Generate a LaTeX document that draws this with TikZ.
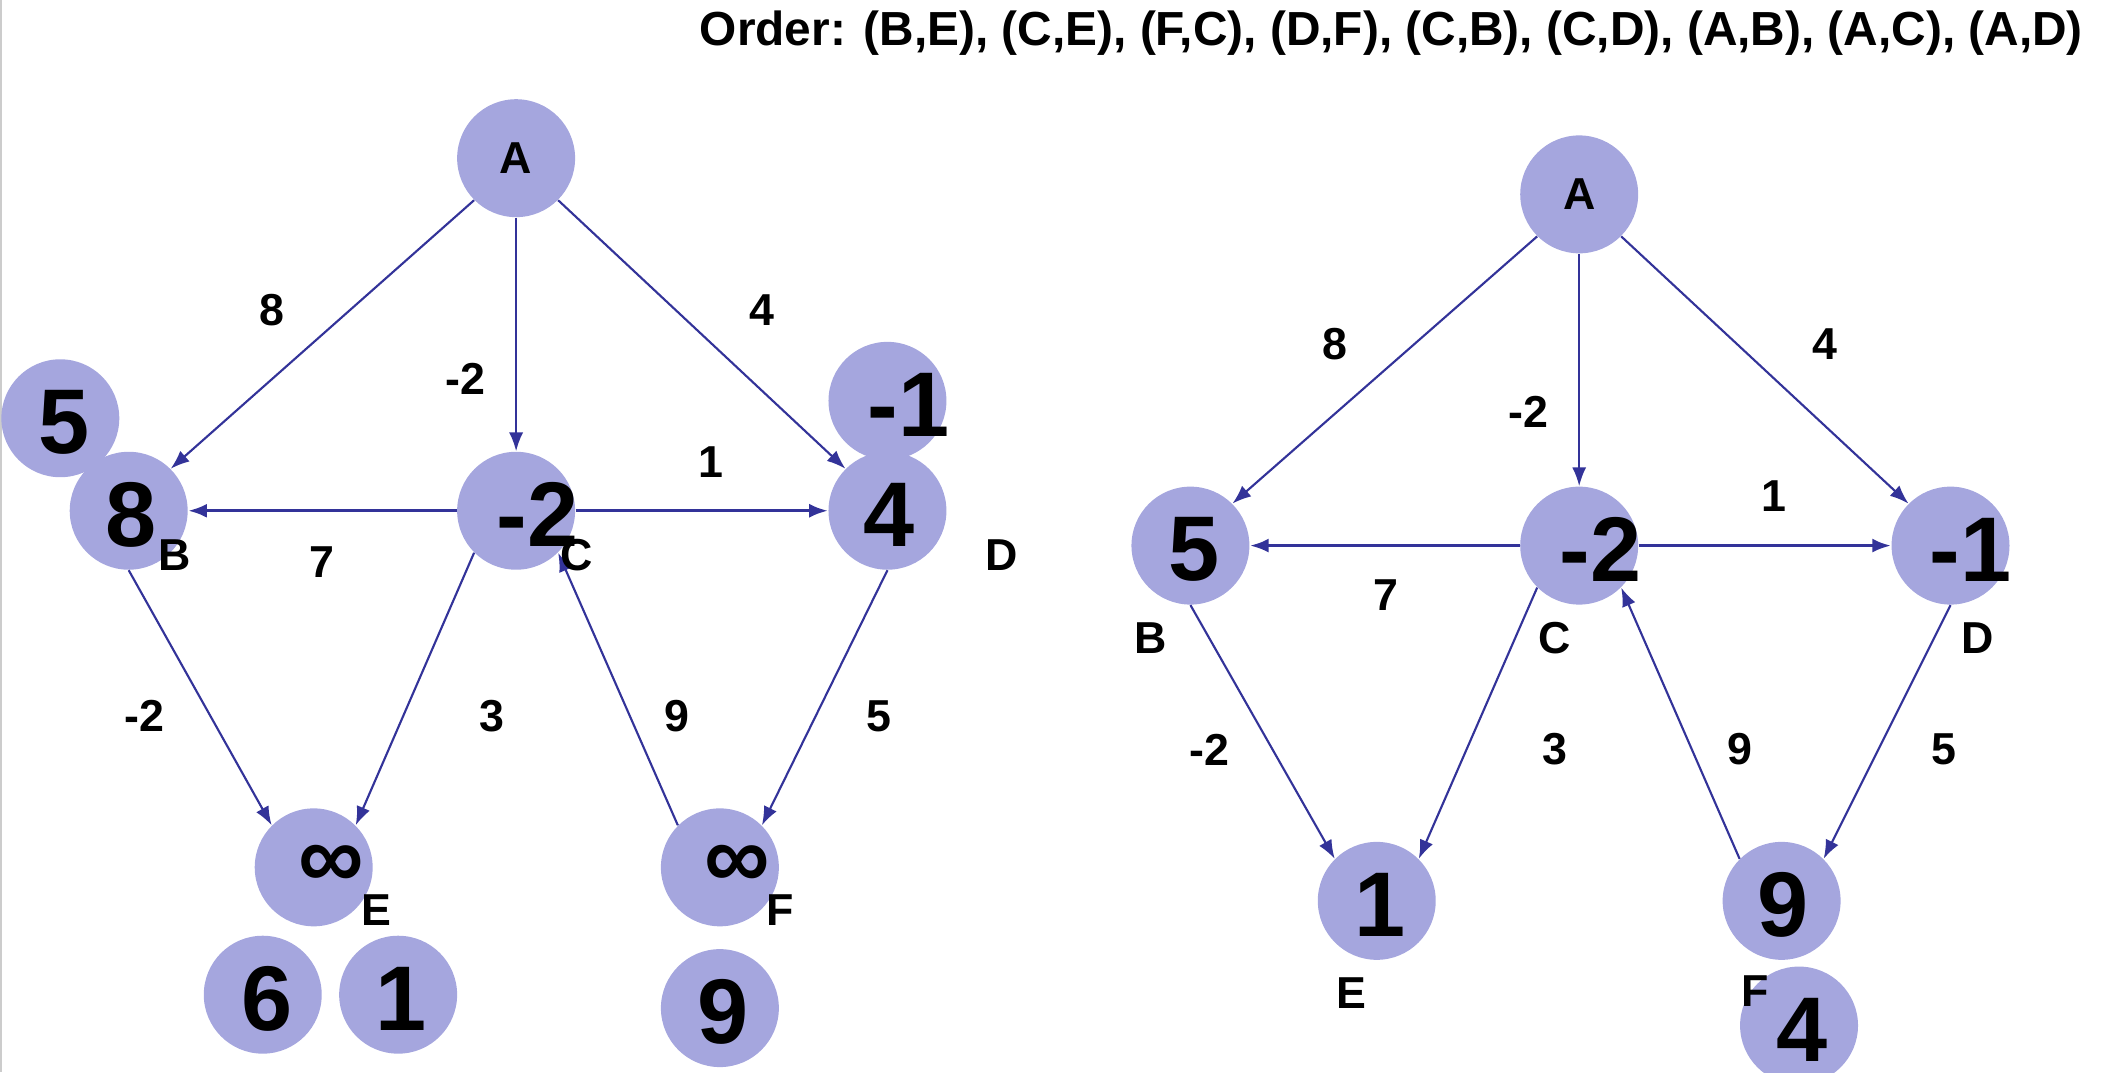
\documentclass[tikz,border=0pt]{standalone}
\usepackage{fontspec}
\setmainfont{Liberation Sans}
\usetikzlibrary{arrows.meta,calc}

\definecolor{vtxfill}{RGB}{165,166,222}
\definecolor{linkblue}{RGB}{51,51,153}

\tikzstyle{vtx}=[circle,fill=vtxfill,minimum size=1.76cm,inner sep=0pt]
\tikzstyle{val}=[anchor=west,inner sep=0pt,font=\fontsize{39}{42}\selectfont\bfseries]
\tikzstyle{lbl}=[inner sep=0pt,font=\fontsize{19}{21}\selectfont\bfseries]
\tikzstyle{link}=[draw=linkblue,line width=0.9pt,-{Latex[length=8pt,width=6pt]}]
\tikzstyle{hlink}=[link,line width=1.4pt]

\begin{document}
\begin{tikzpicture}[x=0.02cm,y=-0.02cm]
\useasboundingbox (0,0) rectangle (1568,800);
\clip (0,0) rectangle (1568,800);
\draw[gray!40,line width=1pt] (0.5,0) -- (0.5,800);

\node[anchor=base east,inner sep=0pt,font=\fontsize{20.3}{22}\selectfont\bfseries] (order) at (1554,34)
  {Order: (B,E), (C,E), (F,C), (D,F), (C,B), (C,D), (A,B), (A,C), (A,D)};

% left graph
\node[vtx,lbl] (lA) at (385,118) {A};
\node[vtx] (lB5) at (45,312) {};
\node[vtx] (lB) at (96,381) {};
\node[vtx] (lC) at (385,381) {};
\node[vtx] (lD1) at (662,299) {};
\node[vtx] (lD) at (662,381) {};
\node[vtx] (lE) at (234,647) {};
\node[vtx] (lF) at (537,647) {};
\node[vtx] (lE6) at (196,742) {};
\node[vtx] (lE1) at (297,742) {};
\node[vtx] (lF9) at (537,752) {};

\node[val] (lB5v) at ($(lB5)+(-17,3)$) {5};
\node[val] (lBv) at ($(lB)+(-18,3)$) {8};
\node[val] (lCv) at ($(lC)+(-15,3)$) {-2};
\node[val] (lD1v) at ($(lD1)+(-15,3)$) {-1};
\node[val] (lDv) at ($(lD)+(-18,3)$) {4};
\node[val] (lEv) at ($(lE)+(-12,0)$) {∞};
\node[val] (lFv) at ($(lF)+(-12,0)$) {∞};
\node[val] (lE6v) at ($(lE6)+(-16,3)$) {6};
\node[val] (lE1v) at ($(lE1)+(-17,3)$) {1};
\node[val] (lF9v) at ($(lF9)+(-17,3)$) {9};

\draw[link] (lA.225) -- (lB.45);
\draw[link] (lA.270) -- (lC.90);
\draw[link] (lA.315) -- (lD.135);
\draw[hlink] (lC.180) -- (lB.0);
\draw[hlink] (lC.0) -- (lD.180);
\draw[link] (lB.270) -- (lE.135);
\draw[link] (lC.225) -- (lE.45);
\draw[link] (lF.135) -- (lC.315);
\draw[link] (lD.270) -- (lF.45);

\node[lbl] (lw8) at (203,231) {8};
\node[lbl] (lw-2a) at (347,283) {-2};
\node[lbl] (lw4) at (568,231) {4};
\node[lbl] (lw1) at (530,345) {1};
\node[lbl] (lw7) at (240,419) {7};
\node[lbl] (lw-2b) at (108,534) {-2};
\node[lbl] (lw3) at (367,534) {3};
\node[lbl] (lw9) at (505,534) {9};
\node[lbl] (lw5) at (656,534) {5};

\node[lbl] (lBn) at (130,414) {B};
\node[lbl] (lCn) at (430,414) {C};
\node[lbl] (lDn) at (747,414) {D};
\node[lbl] (lEn) at (281,679) {E};
\node[lbl] (lFn) at (582,679) {F};

% right graph
\node[vtx,lbl] (rA) at (1178,145) {A};
\node[vtx] (rB) at (888,407) {};
\node[vtx] (rC) at (1178,407) {};
\node[vtx] (rD) at (1455,407) {};
\node[vtx] (rE) at (1027,672) {};
\node[vtx] (rF) at (1329,672) {};
\node[vtx] (rF4) at (1342,765) {};

\node[val] (rBv) at ($(rB)+(-17,3)$) {5};
\node[val] (rCv) at ($(rC)+(-15,3)$) {-2};
\node[val] (rDv) at ($(rD)+(-16,3)$) {-1};
\node[val] (rEv) at ($(rE)+(-17,3)$) {1};
\node[val] (rFv) at ($(rF)+(-18,3)$) {9};
\node[val] (rF4v) at ($(rF4)+(-17,3)$) {4};

\draw[link] (rA.225) -- (rB.45);
\draw[link] (rA.270) -- (rC.90);
\draw[link] (rA.315) -- (rD.135);
\draw[hlink] (rC.180) -- (rB.0);
\draw[hlink] (rC.0) -- (rD.180);
\draw[link] (rB.270) -- (rE.135);
\draw[link] (rC.225) -- (rE.45);
\draw[link] (rF.135) -- (rC.315);
\draw[link] (rD.270) -- (rF.45);

\node[lbl] (rw8) at (996,257) {8};
\node[lbl] (rw-2a) at (1140,307) {-2};
\node[lbl] (rw4) at (1361,257) {4};
\node[lbl] (rw1) at (1323,370) {1};
\node[lbl] (rw7) at (1034,444) {7};
\node[lbl] (rw-2b) at (902,559) {-2};
\node[lbl] (rw3) at (1160,559) {3};
\node[lbl] (rw9) at (1298,559) {9};
\node[lbl] (rw5) at (1450,559) {5};

\node[lbl] (rBn) at (858,476) {B};
\node[lbl] (rCn) at (1160,476) {C};
\node[lbl] (rDn) at (1475,476) {D};
\node[lbl] (rEn) at (1008,741) {E};
\node[lbl] (rFn) at (1309,739) {F};
\end{tikzpicture}
\end{document}
